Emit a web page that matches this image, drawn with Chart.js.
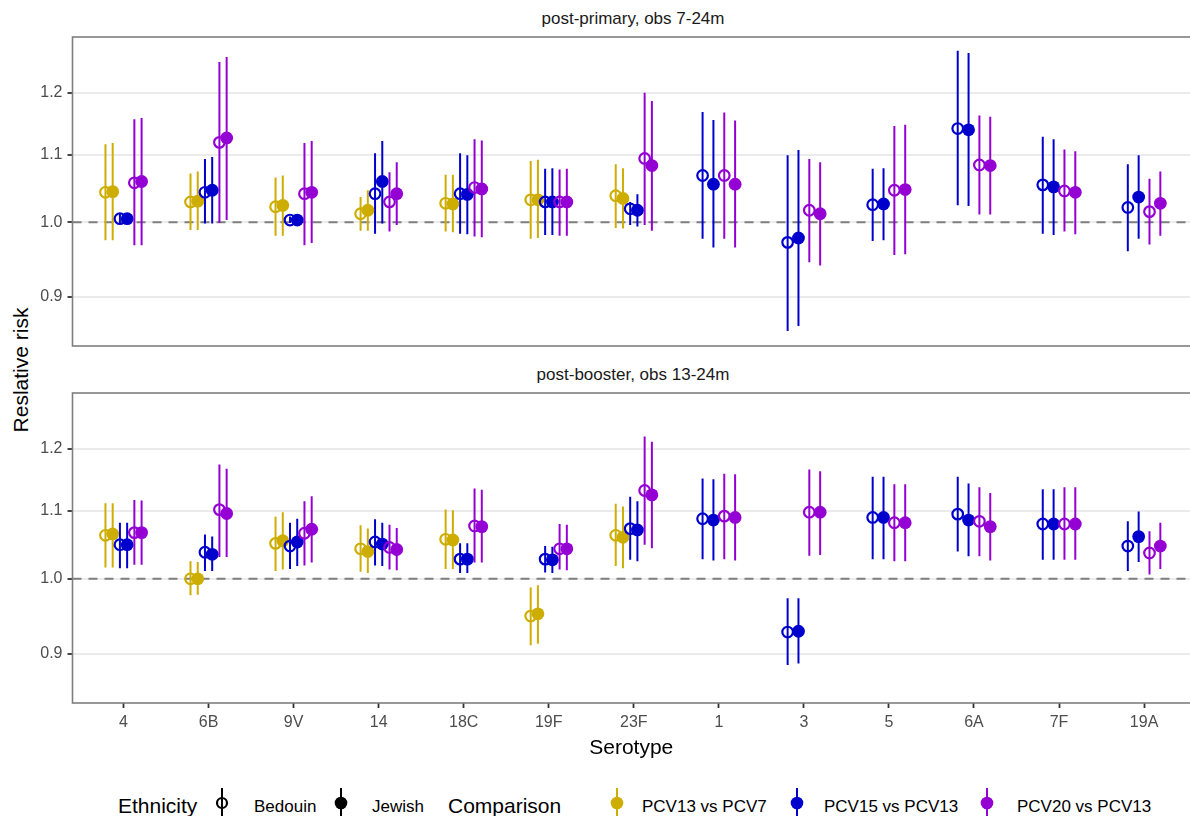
<!DOCTYPE html>
<html>
<head>
<meta charset="utf-8">
<script src="https://cdn.jsdelivr.net/npm/chart.js@4.4.1/dist/chart.umd.min.js"></script>
<style>
  body { margin: 0; width: 1190px; height: 816px; background: #fff; overflow: hidden; position: relative;
         font-family: 'Liberation Sans', Arial, sans-serif; }
  .abs { position: absolute; white-space: nowrap; line-height: 1; }
  .strip { width: 500px; text-align: center; font-size: 17px; color: #1A1A1A; }
  .ytitle { font-size: 21px; color: #000; width: 240px; height: 24px; line-height: 24px; text-align: center;
            transform: rotate(-90deg); }
  .leg-title { font-size: 21px; color: #000; }
  .leg-label { font-size: 17px; color: #000; }
  canvas { position: absolute; left: 0; }
</style>
</head>
<body>

<div class="abs strip" style="left:383px; top:10px" id="strip1"></div>
<div class="abs strip" style="left:383px; top:366px" id="strip2"></div>
<div class="abs ytitle" style="left:-99px; top:358px">Reslative risk</div>

<canvas id="chart-primary" width="1190" height="313" style="top:35px"></canvas>
<canvas id="chart-booster" width="1190" height="372" style="top:391px"></canvas>

<div id="legend"></div>

<script>
// Dados
const serotypes = ['4', '6B', '9V', '14', '18C', '19F', '23F', '1', '3', '5', '6A', '7F', '19A'];
const comparisons = ['PCV13 vs PCV7', 'PCV15 vs PCV13', 'PCV20 vs PCV13'];
const ethnicities = ['Bedouin', 'Jewish'];
const panelTitles = ['post-primary, obs 7-24m', 'post-booster, obs 13-24m'];
const yTicks = [0.9, 1.0, 1.1, 1.2];

// cada item: [risco relativo, IC inferior, IC superior] por serotipo
// post-primary
const primary_pcv13v7_bedouin = [[1.043,0.975,1.116],[1.029,0.989,1.071],[1.022,0.981,1.065],[1.012,0.988,1.036],[1.027,0.987,1.069],[1.032,0.977,1.090],[1.038,0.992,1.085],null,null,null,null,null,null];
const primary_pcv13v7_jewish  = [[1.044,0.975,1.118],[1.030,0.989,1.074],[1.024,0.981,1.068],[1.017,0.988,1.046],[1.026,0.986,1.069],[1.032,0.978,1.092],[1.034,0.991,1.079],null,null,null,null,null,null];
const primary_pcv15v13_bedouin = [[1.005,0.997,1.013],[1.043,0.998,1.093],[1.003,0.999,1.008],[1.041,0.984,1.102],[1.041,0.984,1.102],[1.029,0.982,1.078],[1.019,0.996,1.029],[1.068,0.977,1.168],[0.972,0.858,1.099],[1.025,0.974,1.078],[1.141,1.024,1.273],[1.054,0.984,1.128],[1.021,0.960,1.085]];
const primary_pcv15v13_jewish  = [[1.005,0.997,1.013],[1.046,0.998,1.096],[1.003,0.999,1.008],[1.059,0.998,1.121],[1.040,0.983,1.099],[1.029,0.982,1.079],[1.017,0.994,1.040],[1.055,0.965,1.155],[0.978,0.864,1.107],[1.026,0.975,1.079],[1.139,1.023,1.269],[1.051,0.982,1.124],[1.036,0.977,1.099]];
const primary_pcv20v13_bedouin = [[1.057,0.968,1.156],[1.119,0.999,1.253],[1.041,0.968,1.118],[1.029,0.987,1.073],[1.050,0.980,1.124],[1.029,0.981,1.077],[1.094,0.996,1.200],[1.068,0.977,1.167],[1.017,0.945,1.093],[1.046,0.955,1.145],[1.084,1.011,1.162],[1.045,0.987,1.108],[1.015,0.969,1.063]];
const primary_pcv20v13_jewish  = [[1.059,0.968,1.158],[1.126,1.003,1.262],[1.043,0.971,1.121],[1.041,0.996,1.088],[1.048,0.979,1.122],[1.029,0.981,1.078],[1.083,0.988,1.186],[1.055,0.965,1.154],[1.012,0.941,1.088],[1.047,0.956,1.147],[1.083,1.011,1.160],[1.043,0.983,1.105],[1.027,0.981,1.074]];

// post-booster
const booster_pcv13v7_bedouin = [[1.063,1.016,1.112],[1.000,0.977,1.025],[1.051,1.011,1.091],[1.043,1.010,1.078],[1.057,1.014,1.102],[0.949,0.911,0.988],[1.063,1.018,1.111],null,null,null,null,null,null];
const booster_pcv13v7_jewish  = [[1.065,1.016,1.112],[1.000,0.978,1.024],[1.055,1.013,1.098],[1.039,1.008,1.073],[1.056,1.014,1.101],[0.952,0.913,0.991],[1.060,1.015,1.107],null,null,null,null,null,null];
const booster_pcv15v13_bedouin = [[1.049,1.015,1.082],[1.038,1.011,1.064],[1.047,1.014,1.082],[1.053,1.019,1.087],[1.028,1.008,1.051],[1.028,1.009,1.047],[1.073,1.027,1.122],[1.088,1.028,1.151],[0.928,0.886,0.973],[1.090,1.028,1.154],[1.095,1.039,1.154],[1.080,1.027,1.134],[1.047,1.011,1.084]];
const booster_pcv15v13_jewish  = [[1.049,1.015,1.082],[1.035,1.011,1.061],[1.053,1.018,1.088],[1.050,1.018,1.082],[1.028,1.008,1.051],[1.027,1.008,1.046],[1.071,1.025,1.115],[1.086,1.026,1.150],[0.929,0.888,0.973],[1.090,1.028,1.154],[1.086,1.032,1.143],[1.080,1.027,1.134],[1.061,1.024,1.099]];
const booster_pcv20v13_bedouin = [[1.067,1.020,1.117],[1.102,1.031,1.174],[1.066,1.019,1.115],[1.045,1.013,1.079],[1.077,1.023,1.135],[1.043,1.013,1.080],[1.132,1.049,1.221],[1.092,1.028,1.159],[1.098,1.033,1.166],[1.082,1.025,1.142],[1.084,1.032,1.137],[1.080,1.027,1.137],[1.037,1.006,1.069]];
const booster_pcv20v13_jewish  = [[1.067,1.020,1.116],[1.096,1.031,1.167],[1.072,1.023,1.123],[1.042,1.012,1.074],[1.076,1.023,1.133],[1.043,1.012,1.079],[1.125,1.044,1.212],[1.090,1.026,1.158],[1.098,1.034,1.163],[1.082,1.025,1.142],[1.076,1.026,1.128],[1.080,1.027,1.137],[1.047,1.014,1.082]];

// Estilo
const compColors = ['#CDAD00', '#0000CD', '#9400D3'];
const yMin = 0.843, yMax = 1.298;
const xMin = -0.6, xMax = 12.54;
const dodgeWidth = 0.51;

Chart.defaults.font.family = "'Liberation Sans', Arial, sans-serif";

document.getElementById('strip1').textContent = panelTitles[0];
document.getElementById('strip2').textContent = panelTitles[1];

// Borda do painel (estilo theme_bw)
const panelBorder = {
    id: 'panelBorder',
    afterDatasetsDraw(chart) {
        const a = chart.chartArea;
        const ctx = chart.ctx;
        ctx.save();
        ctx.strokeStyle = '#7f7f7f';
        ctx.lineWidth = 1.6;
        ctx.strokeRect(a.left, a.top, a.right - a.left + 20, a.bottom - a.top);
        ctx.restore();
    }
};

function buildDatasets(series) {
    const datasets = [];
    // posições com dodge: só conta as séries presentes em cada serotipo
    const offsets = series.map(() => []);
    serotypes.forEach((s, i) => {
        const present = [];
        series.forEach((ser, k) => { if (ser[i]) present.push(k); });
        const n = present.length;
        present.forEach((k, j) => {
            offsets[k][i] = (j - (n - 1) / 2) * dodgeWidth / n;
        });
    });

    series.forEach((ser, k) => {
        const comp = Math.floor(k / 2);
        const eth = k % 2;
        const color = compColors[comp];
        const pts = [];
        const bars = [];
        ser.forEach((v, i) => {
            if (!v) return;
            const x = i + offsets[k][i];
            pts.push({ x: x, y: v[0] });
            bars.push({ x: x, y: v[1] }, { x: x, y: v[2] }, { x: x, y: null });
        });
        // intervalo
        datasets.push({
            label: comparisons[comp] + ' ' + ethnicities[eth] + ' CI',
            data: bars,
            showLine: true,
            spanGaps: false,
            borderColor: color,
            borderWidth: 2,
            borderCapStyle: 'butt',
            pointRadius: 0,
            order: 50
        });
        // ponto
        datasets.push({
            label: comparisons[comp] + ' ' + ethnicities[eth],
            data: pts,
            pointStyle: 'circle',
            pointRadius: eth === 0 ? 5.3 : 6.4,
            pointBorderWidth: eth === 0 ? 2.2 : 0,
            pointBorderColor: color,
            pointBackgroundColor: eth === 0 ? 'rgba(0,0,0,0)' : color,
            backgroundColor: eth === 0 ? 'rgba(0,0,0,0)' : color,
            borderColor: color,
            order: 20 - k
        });
    });

    // linha de referência em 1
    datasets.push({
        label: 'ref',
        data: [{ x: xMin, y: 1 }, { x: xMax + 1, y: 1 }],
        showLine: true,
        borderColor: '#7f7f7f',
        borderWidth: 2,
        borderDash: [9, 7],
        pointRadius: 0,
        order: 100
    });
    return datasets;
}

function createPanel(canvasId, series, showX) {
    const ctx = document.getElementById(canvasId);
    if (!ctx) return;

    new Chart(ctx, {
        type: 'scatter',
        data: { datasets: buildDatasets(series) },
        plugins: [panelBorder],
        options: {
            responsive: false,
            animation: false,
            events: [],
            layout: {
                autoPadding: false,
                padding: { top: 2, bottom: showX ? 0 : 2, left: 0, right: 0 }
            },
            plugins: {
                legend: { display: false },
                tooltip: { enabled: false }
            },
            scales: {
                x: {
                    type: 'linear',
                    display: showX,
                    min: xMin,
                    max: xMax,
                    afterBuildTicks: function(scale) {
                        scale.ticks = serotypes.map((s, i) => ({ value: i }));
                    },
                    afterFit: function(scale) {
                        scale.height = showX ? 60 : 0;
                        scale.paddingLeft = 0;
                        scale.paddingRight = 0;
                    },
                    border: { display: false },
                    grid: {
                        drawOnChartArea: false,
                        drawTicks: true,
                        tickLength: 5,
                        tickColor: '#333333',
                        tickWidth: 1.8
                    },
                    ticks: {
                        autoSkip: false,
                        maxRotation: 0,
                        minRotation: 0,
                        padding: 5,
                        color: '#4D4D4D',
                        font: { size: 16 },
                        callback: function(value) {
                            return serotypes[value];
                        }
                    },
                    title: {
                        display: true,
                        text: 'Serotype',
                        color: '#000000',
                        font: { size: 21 },
                        padding: { top: 0, bottom: 2 }
                    }
                },
                y: {
                    type: 'logarithmic',
                    min: yMin,
                    max: yMax,
                    afterBuildTicks: function(scale) {
                        scale.ticks = yTicks.map(v => ({ value: v }));
                    },
                    afterFit: function(scale) {
                        scale.width = 72.5;
                        scale.paddingTop = 0;
                        scale.paddingBottom = 0;
                    },
                    border: { display: false },
                    grid: {
                        color: '#EBEBEB',
                        lineWidth: 2,
                        drawTicks: true,
                        tickLength: 5,
                        tickColor: '#333333',
                        tickWidth: 1.8
                    },
                    ticks: {
                        padding: 5,
                        color: '#4D4D4D',
                        font: { size: 16 },
                        callback: function(value) {
                            return Number(value).toFixed(1);
                        }
                    }
                }
            }
        }
    });
}

createPanel('chart-primary', [
    primary_pcv13v7_bedouin, primary_pcv13v7_jewish,
    primary_pcv15v13_bedouin, primary_pcv15v13_jewish,
    primary_pcv20v13_bedouin, primary_pcv20v13_jewish
], false);

createPanel('chart-booster', [
    booster_pcv13v7_bedouin, booster_pcv13v7_jewish,
    booster_pcv15v13_bedouin, booster_pcv15v13_jewish,
    booster_pcv20v13_bedouin, booster_pcv20v13_jewish
], true);

// Legenda (HTML)
function glyph(cx, color, open) {
    const fill = open ? 'none' : color;
    return '<svg class="abs" style="left:' + (cx - 10) + 'px; top:787px" width="20" height="29">' +
        '<line x1="10" y1="1" x2="10" y2="29" stroke="' + color + '" stroke-width="2"/>' +
        '<circle cx="10" cy="16" r="' + (open ? 5 : 6.3) + '" fill="' + fill + '" stroke="' + color + '" stroke-width="' + (open ? 2.2 : 0) + '"/>' +
        '</svg>';
}
let html = '';
html += '<div class="abs leg-title" style="left:118px; top:795px">Ethnicity</div>';
const ethGlyphX = [222, 341];
const ethLabelX = [254, 372];
ethnicities.forEach((e, i) => {
    html += glyph(ethGlyphX[i], '#000000', i === 0);
    html += '<div class="abs leg-label" style="left:' + ethLabelX[i] + 'px; top:798px">' + e + '</div>';
});
html += '<div class="abs leg-title" style="left:448px; top:795px">Comparison</div>';
const compGlyphX = [617, 797, 987];
const compLabelX = [642, 824, 1017];
comparisons.forEach((c, i) => {
    html += glyph(compGlyphX[i], compColors[i], false);
    html += '<div class="abs leg-label" style="left:' + compLabelX[i] + 'px; top:798px">' + c + '</div>';
});
document.getElementById('legend').innerHTML = html;
</script>
</body>
</html>
